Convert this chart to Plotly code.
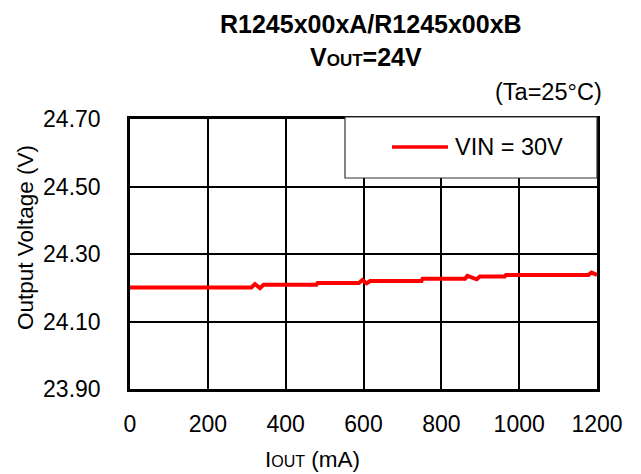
import plotly.graph_objects as go

# Data
iout_ma = [0, 312, 321, 334, 343, 479, 482, 588, 597, 608, 617, 749, 752, 861, 867, 891, 899, 963, 966, 1178, 1186, 1200]
vout_v = [24.201, 24.201, 24.211, 24.199, 24.209, 24.209, 24.214, 24.214, 24.223, 24.213, 24.220, 24.220, 24.227,
          24.227, 24.235, 24.225, 24.233, 24.233, 24.238, 24.238, 24.245, 24.238]
series_name = "VIN = 30V"
x_ticks = [0, 200, 400, 600, 800, 1000, 1200]
y_ticks = [23.90, 24.10, 24.30, 24.50, 24.70]

FONT = "Liberation Sans, Arial, sans-serif"
RED = "#ff0000"
OFF = 8  # page body margin

fig = go.Figure()
fig.add_trace(go.Scatter(x=iout_ma, y=vout_v, mode="lines", name=series_name,
                         line=dict(color=RED, width=4), showlegend=False))

axis_common = dict(showgrid=True, gridcolor="black", gridwidth=1.5,
                   showline=True, linecolor="black", linewidth=2.5, mirror=True,
                   zeroline=False, ticks="", tickfont=dict(family=FONT, size=23, color="black"))

fig.update_layout(
    width=641 - OFF, height=474 - OFF,
    margin=dict(l=130 - OFF, r=44, t=119 - OFF, b=85, pad=0),
    paper_bgcolor="white", plot_bgcolor="white",
    font=dict(family=FONT, color="black"),
    xaxis=dict(range=[0, 1200], tickvals=x_ticks, ticklabelstandoff=13, **axis_common),
    yaxis=dict(range=[23.90, 24.70], tickvals=y_ticks, tickformat=".2f", ticklabelstandoff=22, **axis_common),
)

def px(xp):
    return (xp - 130) / 467

def py(yp):
    return (389 - yp) / 270

ann = [
    dict(text="<b>R1245x00xA/R1245x00xB</b>", x=px(371), y=py(24), size=25),
    dict(text="<b>V<span style='font-size:17px'>OUT</span>=24V</b>", x=px(366), y=py(57), size=25),
    dict(text="(Ta=25°C)", x=px(548), y=py(92), size=23.5),
    dict(text="I<span style='font-size:16px'>OUT</span> (mA)", x=px(312), y=py(459), size=22.5),
]
for a in ann:
    fig.add_annotation(text=a["text"], x=a["x"], y=a["y"], xref="paper", yref="paper",
                       showarrow=False, xanchor="center", yanchor="middle",
                       font=dict(family=FONT, size=a["size"], color="black"))

fig.add_annotation(text="Output Voltage (V)", x=px(25), y=py(238), xref="paper", yref="paper",
                   showarrow=False, textangle=-90, xanchor="center", yanchor="middle",
                   font=dict(family=FONT, size=22.5, color="black"))

# Legend box (manual, to match the reference's wide box)
fig.add_shape(type="rect", xref="paper", yref="paper", x0=px(345), x1=px(597), y0=py(178), y1=py(117),
              fillcolor="white", line=dict(color="#333333", width=1.2), layer="above")
fig.add_shape(type="line", xref="paper", yref="paper", x0=px(392), x1=px(448), y0=py(147), y1=py(147),
              line=dict(color=RED, width=3.5), layer="above")
fig.add_annotation(text=series_name, x=px(453), y=py(147), xref="paper", yref="paper",
                   showarrow=False, xanchor="left", yanchor="middle",
                   font=dict(family=FONT, size=23.5, color="black"))

fig.write_html("out.html")
